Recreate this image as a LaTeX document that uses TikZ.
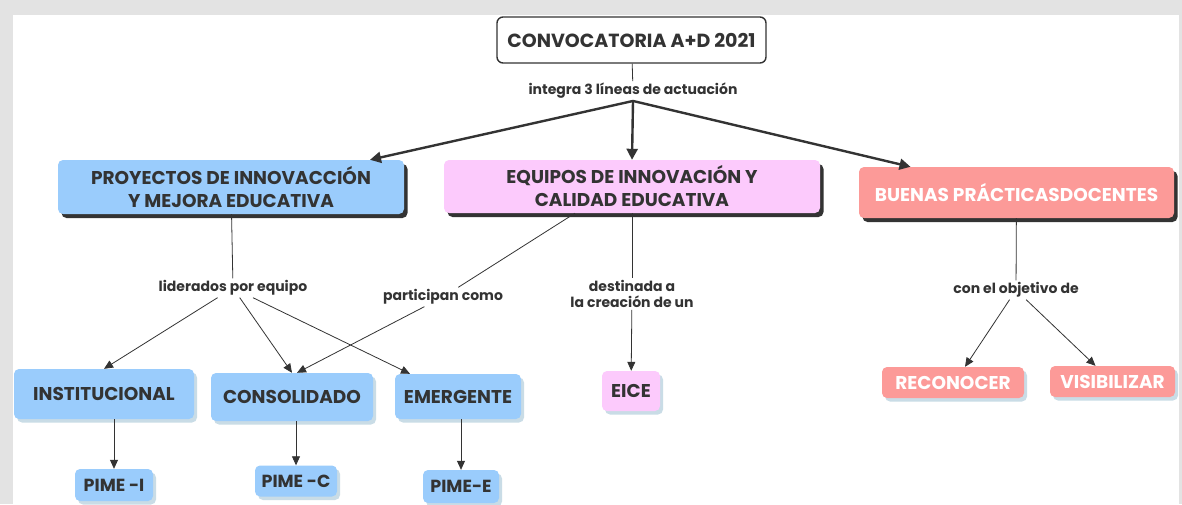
\documentclass[tikz,border=0pt]{standalone}
\usepackage{fontspec}
\setmainfont{Poppins}
\usetikzlibrary{arrows.meta,shapes,shadows}
\definecolor{ink}{HTML}{333333}
\definecolor{blu}{HTML}{9ACCFC}
\definecolor{pnk}{HTML}{FCCAFC}
\definecolor{slm}{HTML}{FC9A98}
\definecolor{shd}{HTML}{C9DCE6}
\tikzstyle{topbox}=[rectangle,draw=ink,line width=1.4pt,rounded corners=6pt,fill=white,inner sep=0pt,text=ink,font=\bfseries\fontsize{19}{22}\selectfont]
\tikzstyle{mainbox}=[rectangle,rounded corners=5pt,inner sep=0pt,align=center,text=ink,font=\bfseries\fontsize{18.5}{23}\selectfont,drop shadow={shadow xshift=3.5pt,shadow yshift=-4pt,fill=ink,opacity=1}]
\tikzstyle{subbox}=[rectangle,rounded corners=5pt,inner sep=0pt,fill=blu,text=ink,font=\bfseries\fontsize{18.5}{21}\selectfont,drop shadow={shadow xshift=3pt,shadow yshift=-3.5pt,fill=shd,opacity=1}]
\tikzstyle{linklabel}=[inner sep=2pt,align=center,text=ink,font=\bfseries\fontsize{14}{16}\selectfont]
\tikzstyle{line} = [draw,ink,line width=0.8pt]
\tikzstyle{edge} = [draw,ink,line width=0.8pt,-{Triangle[length=9pt,width=8pt]}]
\tikzstyle{bigedge} = [draw,ink,line width=2.4pt,-{Triangle[length=11pt,width=11pt]}]

\begin{document}
\begin{tikzpicture}[x=1pt,y=-1pt]
                    \fill[gray!22] (0,0) rectangle (1182,504);
                    \fill[white] (13,15) rectangle (1179,504);

                    \node[topbox,minimum width=269,minimum height=46] (conv) at (631.5,40) {CONVOCATORIA A+D 2021};
                    \node[linklabel] (integra) at (633,91) {integra 3 líneas de actuación};

                    \node[mainbox,fill=blu,minimum width=346,minimum height=54] (proy) at (231,187) {PROYECTOS DE INNOVACCIÓN\\Y MEJORA EDUCATIVA};
                    \node[mainbox,fill=pnk,minimum width=376,minimum height=53] (equi) at (632,186.5) {EQUIPOS DE INNOVACIÓN Y\\CALIDAD EDUCATIVA};
                    \node[mainbox,fill=slm,text=white,minimum width=315,minimum height=51] (buen) at (1016.5,192.5) {BUENAS PRÁCTICASDOCENTES};

                    \node[linklabel] (lider) at (233,288) {liderados por equipo};
                    \node[linklabel] (part) at (443,297) {participan como};
                    \node[linklabel] (dest) at (632,294) {destinada a\\la creación de un};
                    \node[linklabel] (obj) at (1016,290) {con el objetivo de};

                    \node[subbox,minimum width=180,minimum height=50] (inst) at (104,394) {INSTITUCIONAL};
                    \node[subbox,minimum width=162,minimum height=48] (cons) at (292,397) {CONSOLIDADO};
                    \node[subbox,minimum width=126,minimum height=45] (emer) at (458,396.5) {EMERGENTE};
                    \node[subbox,fill=pnk,minimum width=58,minimum height=40] (eice) at (631,391) {EICE};
                    \node[subbox,fill=slm,text=white,drop shadow={opacity=0},minimum width=142,minimum height=31] (reco) at (953,382.5) {RECONOCER};
                    \node[subbox,fill=slm,text=white,drop shadow={opacity=0},minimum width=125,minimum height=31] (visi) at (1112.5,381.5) {VISIBILIZAR};

                    \node[subbox,font=\bfseries\fontsize{17.5}{20}\selectfont,minimum width=78,minimum height=32] (pimi) at (114,485) {PIME -I};
                    \node[subbox,font=\bfseries\fontsize{17.5}{20}\selectfont,minimum width=82,minimum height=31] (pimc) at (296,481) {PIME -C};
                    \node[subbox,font=\bfseries\fontsize{17.5}{20}\selectfont,minimum width=76,minimum height=33] (pime) at (461,486.5) {PIME-E};

                    \path[line] (conv) -- (integra);
                    \path[bigedge] (integra.south) -- ([xshift=139pt]proy.north);
                    \path[bigedge] (integra.south) -- (equi.north);
                    \path[bigedge] (integra.south) -- ([xshift=-106pt]buen.north);

                    \path[line] (proy) -- (lider);
                    \path[edge] (lider) -- (inst.north);
                    \path[edge] (lider) -- (cons.north);
                    \path[edge] (lider) -- ([xshift=-48pt]emer.north);

                    \path[line] ([xshift=-57pt]equi.south) -- (part);
                    \path[edge] (part) -- ([xshift=5pt]cons.north);
                    \path[line] (equi) -- (dest);
                    \path[edge] (dest) -- (eice);

                    \path[line] (buen) -- (obj);
                    \path[edge] (obj) -- ([xshift=12pt]reco.north);
                    \path[edge] (obj) -- ([xshift=-17pt]visi.north);

                    \path[edge] (pimi.north |- inst.south) -- (pimi);
                    \path[edge] (pimc.north |- cons.south) -- (pimc);
                    \path[edge] (pime.north |- emer.south) -- (pime);

                    \pgfresetboundingbox
                    \path [use as bounding box] (0,0) rectangle (1182,504);
                \end{tikzpicture}
\end{document}
